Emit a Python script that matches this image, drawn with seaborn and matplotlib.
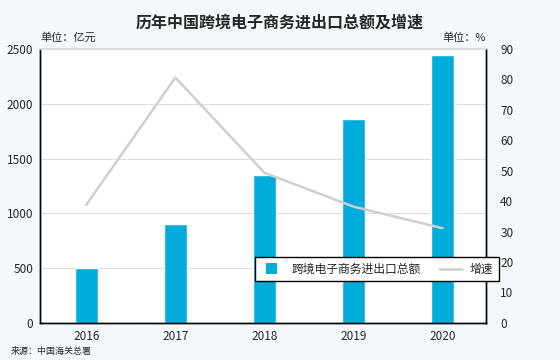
import matplotlib
matplotlib.use("Agg")
import matplotlib.pyplot as plt
import seaborn as sns
import pandas as pd
from matplotlib.patches import Patch, Rectangle
from matplotlib.lines import Line2D
from matplotlib.legend_handler import HandlerPatch

years = ["2016", "2017", "2018", "2019", "2020"]
amount = [499.6, 902.4, 1347, 1862.1, 2441]   # 亿元
growth = [38.8, 80.6, 49.3, 38.2, 31.1]       # %

bar_color = "#00acd9"
line_color = "#cfcfcf"
bg_color = "#f3f8fc"

sns.set_theme(style="white")
plt.rcParams['font.family'] = ['Noto Sans CJK SC', 'DejaVu Sans']
plt.rcParams['axes.unicode_minus'] = False

df = pd.DataFrame({"year": years, "amount": amount, "growth": growth})

fig = plt.figure(figsize=(5.6, 3.6), dpi=100, facecolor=bg_color)
ax = fig.add_axes([0.0714, 0.103, 0.797, 0.761])
ax.set_facecolor("white")

sns.barplot(data=df, x="year", y="amount", color=bar_color, width=0.26,
            saturation=1, ax=ax, zorder=2)
ax.set_xlim(-0.52, 4.49)
ax.set_ylim(0, 2500)
ax.set_yticks(range(0, 2501, 500))
ax.yaxis.grid(True, color="#dddddd", linewidth=0.8, zorder=0)
ax.set_axisbelow(True)
ax.set_xlabel("")
ax.set_ylabel("")
ax.tick_params(axis="both", length=0, labelsize=8.5, pad=5)

ax2 = ax.twinx()
sns.lineplot(data=df, x="year", y="growth", color=line_color, linewidth=1.8,
             ax=ax2, sort=False)
ax2.set_ylim(0, 90)
ax2.set_yticks(range(0, 91, 10))
ax2.set_ylabel("")
ax2.tick_params(axis="y", length=0, labelsize=8.5, pad=10)

for a in (ax, ax2):
    for side in ("left", "right", "bottom"):
        a.spines[side].set_color("black")
        a.spines[side].set_linewidth(1)
    a.spines["top"].set_color("#dddddd")


def square_patch(legend, orig_handle, xdescent, ydescent, width, height, fontsize):
    s = height * 1.25
    return Rectangle((xdescent + (width - s) / 2, ydescent - (s - height) / 2), s, s)


handles = [Patch(facecolor=bar_color, edgecolor="none", label="跨境电子商务进出口总额"),
           Line2D([0], [0], color=line_color, linewidth=1.8, label="增速")]
leg = ax2.legend(handles=handles, ncol=2, loc="center",
                 bbox_to_anchor=(0.755, 0.196), fontsize=8.5, frameon=True,
                 fancybox=False, handlelength=1.9, handletextpad=0.7,
                 columnspacing=1.6, borderpad=0.45,
                 handler_map={Patch: HandlerPatch(patch_func=square_patch)})
leg.get_frame().set_edgecolor("black")
leg.get_frame().set_linewidth(1)
leg.get_frame().set_facecolor("white")
leg.get_frame().set_alpha(1)

fig.text(0.5, 0.937, "历年中国跨境电子商务进出口总额及增速", ha="center",
         va="center", fontsize=11.5, fontweight="bold")
fig.text(0.072, 0.895, "单位：亿元", ha="left", va="center", fontsize=8)
fig.text(0.868, 0.895, "单位：%", ha="right", va="center", fontsize=8)
fig.text(0.02, 0.023, "来源：中国海关总署", ha="left", va="center", fontsize=6.5)

fig.savefig("out.png", dpi=100, facecolor=bg_color)
